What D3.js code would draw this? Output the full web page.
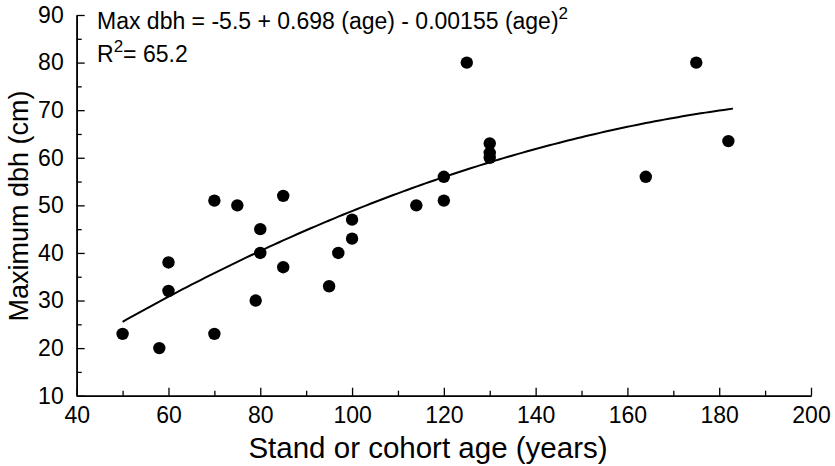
<!DOCTYPE html>
<html><head><meta charset="utf-8">
<script src="https://cdn.jsdelivr.net/npm/d3@7/dist/d3.min.js"></script>
<style>
html,body{margin:0;padding:0;background:#fff;}
svg text{font-family:"Liberation Sans",Arial,Helvetica,sans-serif;fill:#000;}
</style></head>
<body><svg id="c" width="835" height="466"></svg>
<script>
// Data
const ages = [50, 58, 60, 60, 70, 70, 75, 79, 80, 80, 85, 85, 95, 97, 100, 100, 114, 120, 120, 125, 130, 130, 130, 164, 175, 182];
const maxDbh = [23, 20, 38, 32, 51, 23, 50, 30, 45, 40, 52, 37, 33, 40, 47, 43, 50, 56, 51, 80, 63, 61, 60, 56, 80, 63.5];
// Fitted quadratic (from the equation printed on the chart): a + b*age + c*age^2
const fitCoefs = [-5.5, 0.698, -0.00155];
const fitRange = [50, 183];
const xMajorTicks = [40, 60, 80, 100, 120, 140, 160, 180, 200];
const xMinorTicks = [50, 70, 90, 110, 130, 150, 170, 190];
const yMajorTicks = [10, 20, 30, 40, 50, 60, 70, 80, 90];
const yMinorTicks = [15, 25, 35, 45, 55, 65, 75, 85];

const svg = d3.select("#c");
const x = d3.scaleLinear().domain([40, 200]).range([76.7, 811]);
const y = d3.scaleLinear().domain([10, 90]).range([395.7, 15]);

// X axis
const gx = svg.append("g").attr("transform", `translate(0,${y(10)})`);
gx.call(d3.axisBottom(x).tickValues(xMinorTicks).tickSizeInner(-5).tickSizeOuter(0).tickFormat(""));
const gx2 = svg.append("g").attr("transform", `translate(0,${y(10)})`);
gx2.call(d3.axisBottom(x).tickValues(xMajorTicks).tickSizeInner(-8).tickSizeOuter(0).tickPadding(11).tickFormat(d3.format("d")));
// Y axis
const gy = svg.append("g").attr("transform", `translate(${x(40)},0)`);
gy.call(d3.axisLeft(y).tickValues(yMinorTicks).tickSizeInner(-5).tickSizeOuter(0).tickFormat(""));
const gy2 = svg.append("g").attr("transform", `translate(${x(40)},0)`);
gy2.call(d3.axisLeft(y).tickValues(yMajorTicks).tickSizeInner(-8).tickSizeOuter(0).tickPadding(13).tickFormat(d3.format("d")));

svg.selectAll(".domain").attr("stroke", "#000").attr("stroke-width", 1.6);
svg.selectAll(".tick line").attr("stroke", "#000").attr("stroke-width", 1.3);
svg.selectAll(".tick text").style("font-size", "23px").attr("fill", "#000");

// Axis titles
svg.append("text").attr("x", 428).attr("y", 458).attr("text-anchor", "middle")
  .style("font-size", "29.5px").text("Stand or cohort age (years)");
svg.append("text").attr("transform", "translate(28,206) rotate(-90)").attr("text-anchor", "middle")
  .style("font-size", "27px").text("Maximum dbh (cm)");

// Fitted curve
const fitAges = d3.range(fitRange[0], fitRange[1] + 0.5, 1);
const fitLine = d3.line().x(d => x(d)).y(d => y(fitCoefs[0] + fitCoefs[1] * d + fitCoefs[2] * d * d));
svg.append("path").datum(fitAges).attr("d", fitLine).attr("fill", "none")
  .attr("stroke", "#000").attr("stroke-width", 2);

// Points
svg.append("g").selectAll("circle").data(ages).join("circle")
  .attr("cx", d => x(d)).attr("cy", (d, i) => y(maxDbh[i])).attr("r", 6.2).attr("fill", "#000");

// Equation text
const eq = svg.append("text").attr("x", 97).attr("y", 29).style("font-size", "23px");
eq.append("tspan").text("Max dbh = -5.5 + 0.698 (age) - 0.00155 (age)");
eq.append("tspan").attr("dy", -10).style("font-size", "17px").text("2");
const r2 = svg.append("text").attr("x", 97).attr("y", 62).style("font-size", "23px");
r2.append("tspan").text("R");
r2.append("tspan").attr("dy", -10).style("font-size", "17px").text("2");
r2.append("tspan").attr("dy", 10).text("= 65.2");
</script></body></html>
